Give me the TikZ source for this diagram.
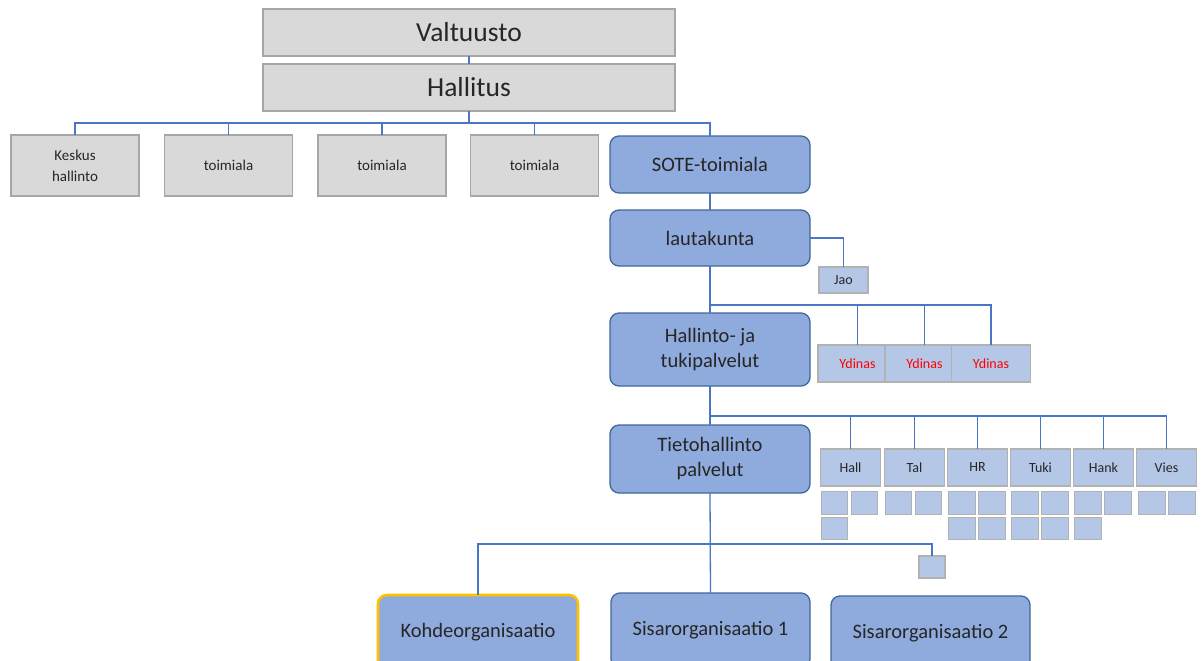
\documentclass[tikz,border=0pt]{standalone}
\usepackage{fontspec}
\setmainfont{Carlito}
\begin{document}
\begin{tikzpicture}[x=1pt,y=-1pt,
  graybox/.style={draw=black!35, line width=1.2pt, fill=black!15, inner sep=0pt, outer sep=0pt, text=black!85, align=center},
  bluebox/.style={draw=blue3, line width=1.3pt, fill=blue1, rounded corners=9pt, inner sep=0pt, outer sep=0pt, minimum width=200pt, text=black!85, align=center, font=\fontsize{20.5}{25}\selectfont},
  lightbox/.style={draw=black!30, line width=1.2pt, fill=blue2, inner sep=0pt, outer sep=0pt, text=black!85, font=\fontsize{14}{17}\selectfont},
  cell/.style={lightbox, line width=1pt, minimum width=26.5pt, minimum height=22.5pt},
  link/.style={draw=linkblue, line width=1.3pt}
]
\definecolor{blue1}{HTML}{8FAADC}
\definecolor{blue2}{HTML}{B4C7E7}
\definecolor{blue3}{HTML}{41689C}
\definecolor{linkblue}{HTML}{4A76C6}
\definecolor{ydin}{HTML}{FF0000}
\definecolor{gold}{HTML}{FFC000}
\clip (0,0) rectangle (1203,661);
\fill[white] (0,0) rectangle (1203,661);

% top level
\node[graybox, minimum width=412pt, minimum height=47pt, font=\fontsize{27.5}{32}\selectfont] (valt) at (469,32.5) {Valtuusto};
\node[graybox, minimum width=412pt, minimum height=47pt, font=\fontsize{27.5}{32}\selectfont] (hall) at (469,87.5) {Hallitus};

% sectors
\tikzset{sector/.style={graybox, minimum width=128pt, minimum height=61pt, font=\fontsize{15}{21}\selectfont}}
\node[sector] (kes) at (75,165.5) {Keskus\\hallinto};
\node[sector] (t1) at (228.5,165.5) {toimiala};
\node[sector] (t2) at (382,165.5) {toimiala};
\node[sector] (t3) at (534.5,165.5) {toimiala};

% social and health branch
\node[bluebox, minimum height=57pt] (sote) at (710,164.5) {SOTE-toimiala};
\node[bluebox, minimum height=56pt] (laut) at (710,238) {lautakunta};
\node[lightbox, minimum width=49pt, minimum height=26pt] (jao) at (843.5,280) {Jao};
\node[bluebox, minimum height=73pt] (halt) at (710,349.5) {Hallinto- ja\\tukipalvelut};
\node[lightbox, minimum width=79pt, minimum height=37pt, text=ydin] (y1) at (857.5,363.5) {Ydinas};
\node[lightbox, minimum width=79pt, minimum height=37pt, text=ydin] (y2) at (924.5,363.5) {Ydinas};
\node[lightbox, minimum width=79pt, minimum height=37pt, text=ydin] (y3) at (991,363.5) {Ydinas};
\node[bluebox, minimum height=68pt] (tieto) at (710,459) {Tietohallinto\\palvelut};

% units under Tietohallinto
\tikzset{unit/.style={lightbox, minimum width=60pt, minimum height=37pt}}
\node[unit] (u1) at (850.5,467.5) {Hall};
\node[unit] (u2) at (914.5,467.5) {Tal};
\node[unit] (u3) at (977.5,467.5) {HR};
\node[unit] (u4) at (1040.5,467.5) {Tuki};
\node[unit] (u5) at (1103.5,467.5) {Hank};
\node[unit] (u6) at (1166.5,467.5) {Vies};

% sub-unit cells
\node[cell] (c11) at (834.5,503) {}; \node[cell] (c12) at (864.5,503) {};
\node[cell] (c13) at (834.5,528.5) {};
\node[cell] (c21) at (898.5,503) {}; \node[cell] (c22) at (928.5,503) {};
\node[cell] (c31) at (962,503) {}; \node[cell] (c32) at (992,503) {};
\node[cell] (c33) at (962,528.5) {}; \node[cell] (c34) at (992,528.5) {};
\node[cell] (c41) at (1025,503) {}; \node[cell] (c42) at (1055,503) {};
\node[cell] (c43) at (1025,528.5) {}; \node[cell] (c44) at (1055,528.5) {};
\node[cell] (c51) at (1088,503) {}; \node[cell] (c52) at (1118,503) {};
\node[cell] (c53) at (1088,528.5) {};
\node[cell] (c61) at (1152,503) {}; \node[cell] (c62) at (1182,503) {};

% organisations
\node[lightbox, minimum width=26pt, minimum height=22pt] (sq) at (932,567) {};
\node[bluebox, minimum width=200pt, minimum height=75pt, draw=gold, line width=2.6pt] (kohde) at (478,632.5) {Kohdeorganisaatio};
\node[bluebox, minimum width=199pt, minimum height=75pt] (sis1) at (710.5,630.5) {Sisarorganisaatio 1};
\node[bluebox, minimum width=199pt, minimum height=75pt] (sis2) at (930.5,633.5) {Sisarorganisaatio 2};

% connectors
\coordinate (b1) at (469,123);
\coordinate (b2) at (710,305);
\coordinate (b3) at (710,416);
\coordinate (b4) at (710,544);
\draw[link] (valt.south) -- (hall.north);
\draw[link] (hall.south) -- (b1);
\draw[link] (kes.north) |- (b1 -| sote.north) -- (sote.north);
\draw[link] (t1.north) -- (t1.north |- b1);
\draw[link] (t2.north) -- (t2.north |- b1);
\draw[link] (t3.north) -- (t3.north |- b1);
\draw[link] (sote.south) -- (laut.north);
\draw[link] (laut.east) -| (jao.north);
\draw[link] (laut.south) -- (halt.north);
\draw[link] (b2) -| (y3.north);
\draw[link] (y1.north) -- (y1.north |- b2);
\draw[link] (y2.north) -- (y2.north |- b2);
\draw[link] (halt.south) -- (tieto.north);
\draw[link] (b3) -| (u6.north);
\foreach \u in {u1,u2,u3,u4,u5}{\draw[link] (\u.north) -- (\u.north |- b3);}
\draw[link] (tieto.south) -- (sis1.north);
\draw[link] (kohde.north) |- (b4 -| sq.north) -- (sq.north);
\end{tikzpicture}
\end{document}
